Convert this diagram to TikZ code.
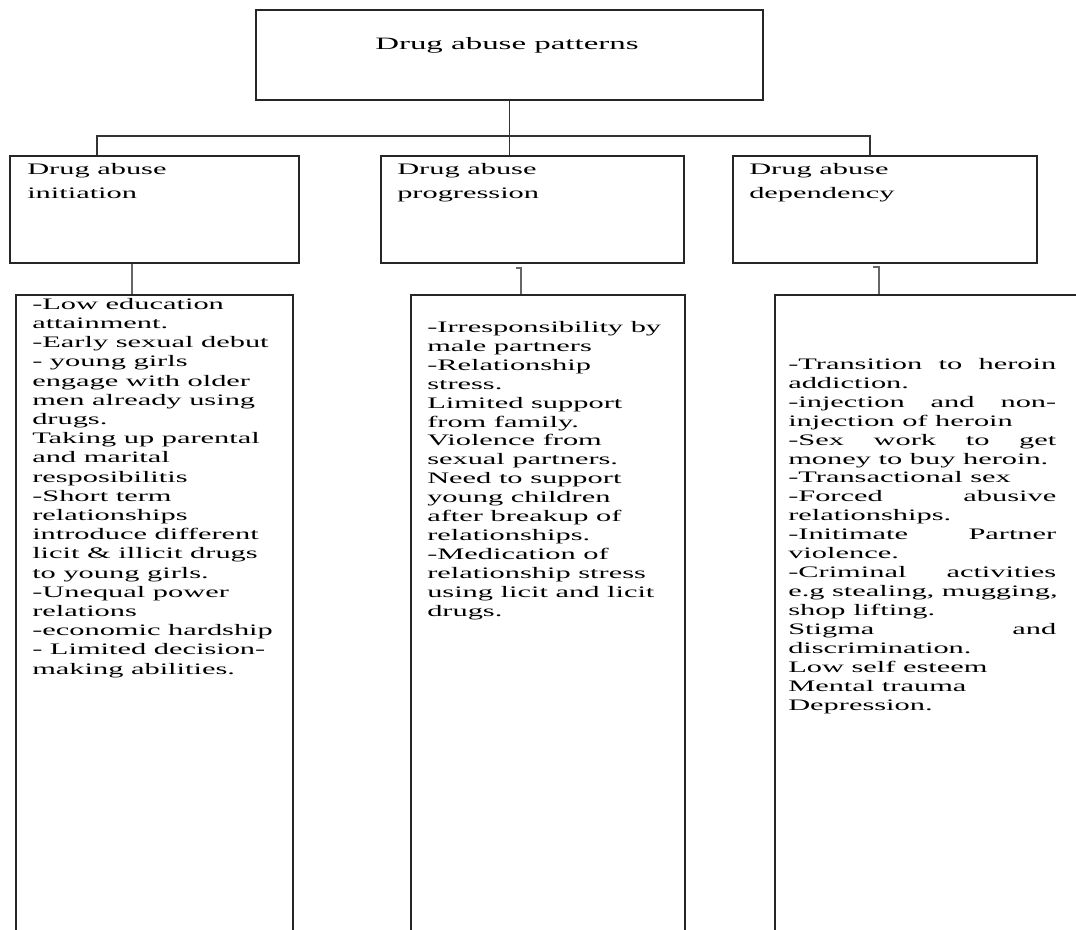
\documentclass[tikz,border=0pt]{standalone}
\usepackage{fontspec}
\setmainfont[FakeStretch=1.9]{Liberation Serif}
\newcommand\spreadline[1]{\makebox[201pt][s]{#1}}
\begin{document}
\begin{tikzpicture}[x=0.75pt, y=-0.75pt,
  box/.style={draw=black!85, line width=1.5pt, inner sep=0pt},
  size/.style 2 args={minimum width=#1*0.75pt, minimum height=#2*0.75pt},
  link/.style={draw=black!80, line width=1.4pt},
  stem/.style={draw=black!60, line width=2.1pt},
  head/.style={font=\fontsize{12pt}{18pt}\selectfont, align=left, inner sep=0pt, anchor=north west},
  list/.style={font=\fontsize{12pt}{14.2pt}\selectfont, align=left, inner sep=0pt, anchor=north west}]
  \useasboundingbox (0,0) rectangle (1076,930);
  \clip (0,0) rectangle (1076,930);
  % boxes
  \node[box, size={507}{90}] (patterns) at (509.5,55) {};
  \node[box, size={289}{107}] (initiation) at (154.5,209.5) {};
  \node[box, size={303}{107}] (progression) at (532.5,209.5) {};
  \node[box, size={304}{107}] (dependency) at (885,209.5) {};
  \node[box, size={277}{665}] (initFactors) at (154.5,627.5) {};
  \node[box, size={274}{665}] (progFactors) at (548,627.5) {};
  \node[box, size={335}{665}] (depFactors) at (942.5,627.5) {};
  % connectors
  \draw[link] (patterns.south) -- ++(0,35) coordinate (hub);
  \draw[link] (initiation.north west) ++(88,0) |- (hub) -| ([xshift=-11.25pt]dependency.north);
  \draw[link] (hub) -- (hub |- progression.north);
  \draw[stem] ([xshift=-16.875pt]initiation.south) coordinate (s1) -- (s1 |- initFactors.north);
  \draw[stem] ([xshift=-12.375pt, yshift=-3pt]progression.south) -- ++(5,0) coordinate (s2) -- (s2 |- progFactors.north);
  \draw[stem] ([xshift=-9pt, yshift=-2.25pt]dependency.south) -- ++(6,0) coordinate (s3) -- (s3 |- depFactors.north);
  % texts
  \node[anchor=base west, inner sep=0pt, font=\fontsize{13pt}{15pt}\selectfont] (patternsText) at (375,50) {Drug abuse patterns};
  \node[head] (initiationText) at (27,163) {Drug abuse\\initiation};
  \node[head] (progressionText) at (397,163) {Drug abuse\\progression};
  \node[head] (dependencyText) at (749,163) {Drug abuse\\dependency};
  \node[list, font=\fontsize{12pt}{14.4pt}\selectfont] (initList) at (32,298) {-Low education\\
    attainment.\\
    -Early sexual debut\\
    - young girls\\
    engage with older\\
    men already using\\
    drugs.\\
    Taking up parental\\
    and marital\\
    resposibilitis\\
    -Short term\\
    relationships\\
    introduce different\\
    licit \& illicit drugs\\
    to young girls.\\
    -Unequal power\\
    relations\\
    -economic hardship\\
    - Limited decision-\\
    making abilities.};
  \node[list] (progList) at (427,321) {-Irresponsibility by\\
    male partners\\
    -Relationship\\
    stress.\\
    Limited support\\
    from family.\\
    Violence from\\
    sexual partners.\\
    Need to support\\
    young children\\
    after breakup of\\
    relationships.\\
    -Medication of\\
    relationship stress\\
    using licit and licit\\
    drugs.};
  \node[list] (depList) at (788,358) {\spreadline{-Transition to heroin}\\
    addiction.\\
    \spreadline{-injection and non-}\\
    injection of heroin\\
    \spreadline{-Sex work to get}\\
    money to buy heroin.\\
    -Transactional sex\\
    \spreadline{-Forced abusive}\\
    relationships.\\
    \spreadline{-Initimate Partner}\\
    violence.\\
    \spreadline{-Criminal activities}\\
    e.g stealing, mugging,\\
    shop lifting.\\
    \spreadline{Stigma and}\\
    discrimination.\\
    Low self esteem\\
    Mental trauma\\
    Depression.};
\end{tikzpicture}
\end{document}
